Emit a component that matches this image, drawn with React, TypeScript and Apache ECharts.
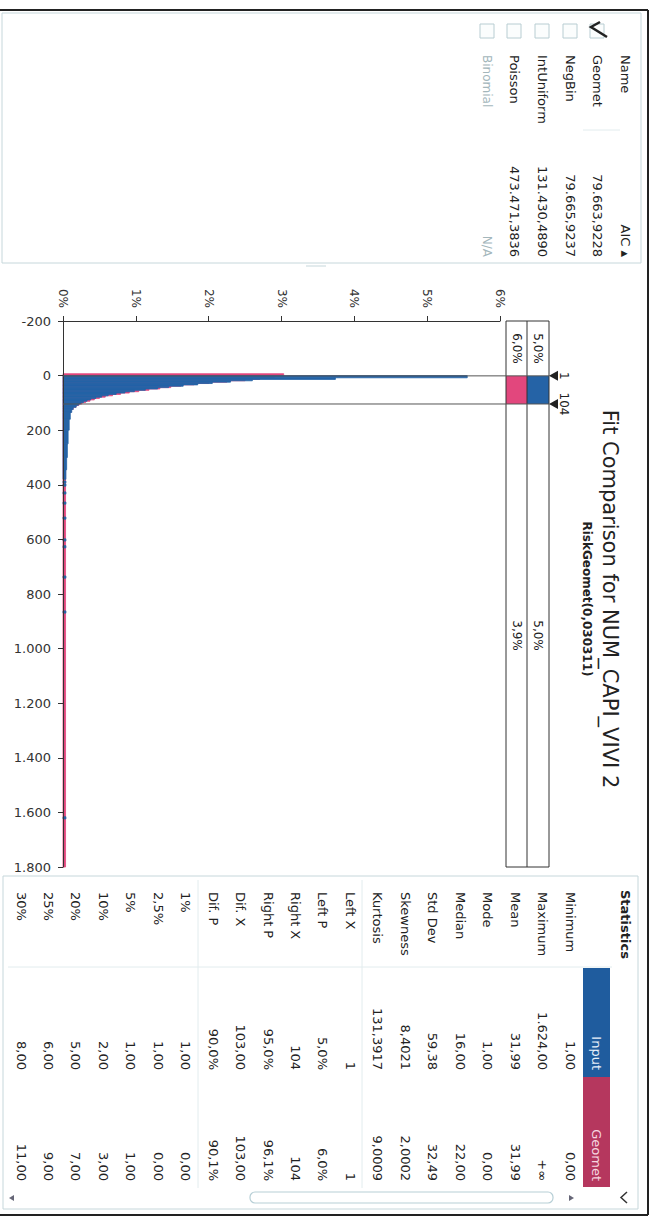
import React, { useEffect, useRef } from 'react';
import * as echarts from 'echarts';

// ---------- data ----------
const chartTitle = 'Fit Comparison for NUM_CAPI_VIVI 2';
const chartSubtitle = 'RiskGeomet(0,030311)';

// percent axis ticks
const percentTicks = [0, 1, 2, 3, 4, 5, 6];

// histogram of input data (bin edges in units, height in %)
const blueEdges = [0, 8, 14, 19, 24, 29, 34, 39, 44, 49, 54, 59, 64, 69, 74, 79, 84, 89, 94, 99, 104, 109, 116, 124, 135, 160, 200, 250, 300, 345, 380];
const bluePct = [5.55, 3.74, 2.6, 2.3, 2.05, 1.85, 1.65, 1.45, 1.3, 1.13, 0.98, 0.85, 0.73, 0.62, 0.53, 0.45, 0.38, 0.33, 0.28, 0.24, 0.21, 0.18, 0.14, 0.12, 0.1, 0.085, 0.07, 0.06, 0.05, 0.04];
// isolated input values in the long tail
const outlierValues = [390, 401, 430, 467, 522, 602, 627, 738, 866, 1620];
const outlierPct = [0.04, 0.04, 0.04, 0.04, 0.04, 0.04, 0.04, 0.04, 0.04, 0.04];
// fitted Geomet distribution
const pinkEdges = [-7, 1, 8, 14, 19, 24, 29, 34, 39, 44, 49, 54, 59, 64, 69, 74, 79, 84, 89, 94, 99, 104, 109, 116, 124, 135, 160, 200, 1800];
const pinkPct = [3.03, 2.9, 2.7, 2.5, 2.25, 2.0, 1.8, 1.62, 1.48, 1.33, 1.18, 1.04, 0.91, 0.79, 0.68, 0.58, 0.5, 0.43, 0.37, 0.31, 0.26, 0.22, 0.18, 0.14, 0.11, 0.08, 0.05, 0.035];

// delimiters
const delimiterValues = [1, 104];
const inputTailLabels = ['5,0%', '5,0%'];
const fitTailLabels = ['6,0%', '3,9%'];

// fit ranking
const fitNames = ['Geomet', 'NegBin', 'IntUniform', 'Poisson', 'Binomial'];
const fitAIC = ['79.663,9228', '79.665,9237', '131.430,4890', '473.471,3836', 'N/A'];
const fitChecked = [true, false, false, false, false];
const fitAvailable = [true, true, true, true, false];

// statistics table
const statLabels = ['Minimum', 'Maximum', 'Mean', 'Mode', 'Median', 'Std Dev', 'Skewness', 'Kurtosis', 'Left X', 'Left P', 'Right X', 'Right P', 'Dif. X', 'Dif. P', '1%', '2,5%', '5%', '10%', '20%', '25%', '30%'];
const inputStats = ['1,00', '1.624,00', '31,99', '1,00', '16,00', '59,38', '8,4021', '131,3917', '1', '5,0%', '104', '95,0%', '103,00', '90,0%', '1,00', '1,00', '1,00', '2,00', '5,00', '6,00', '8,00'];
const geometStats = ['0,00', '+∞', '31,99', '0,00', '22,00', '32,49', '2,0002', '9,0009', '1', '6,0%', '104', '96,1%', '103,00', '90,1%', '0,00', '0,00', '1,00', '3,00', '7,00', '9,00', '11,00'];

const FONT = 'DejaVu Sans';
const BLUE = '#2563a6';
const PINK = '#e2477d';

function fmtThousands(v: number) {
  const s = Math.abs(v).toString().replace(/\B(?=(\d{3})+(?!\d))/g, '.');
  return (v < 0 ? '-' : '') + s;
}

function binSeries(data: number[][], color: string, z: number) {
  return {
    type: 'custom',
    z,
    silent: true,
    encode: { x: 2, y: [0, 1] },
    data,
    renderItem: (params: any, api: any) => {
      const a = api.coord([0, api.value(0)]);
      const b = api.coord([api.value(2), api.value(1)]);
      return {
        type: 'rect',
        shape: { x: a[0], y: Math.min(a[1], b[1]), width: b[0] - a[0], height: Math.abs(b[1] - a[1]) },
        style: { fill: color, stroke: color, lineWidth: 0.8 },
      };
    },
  };
}

function rotText(text: string, x: number, y: number, o: any = {}) {
  return {
    type: 'text',
    x,
    y,
    rotation: -Math.PI / 2,
    silent: true,
    z: 20,
    style: {
      text,
      x: 0,
      y: 0,
      fill: o.fill || '#222',
      fontSize: o.size || 13,
      fontFamily: FONT,
      fontWeight: o.weight || 'normal',
      align: o.align || 'left',
      verticalAlign: 'middle',
    },
  };
}

function line(x1: number, y1: number, x2: number, y2: number, stroke: string, lw = 1) {
  return { type: 'line', silent: true, z: 15, shape: { x1, y1, x2, y2 }, style: { stroke, lineWidth: lw } };
}

export default function App() {
  const ref = useRef<HTMLDivElement>(null);

  useEffect(() => {
    document.body.style.margin = '0';
    const chart = echarts.init(ref.current!, null, { renderer: 'svg' });
    const axisColor = '#333';
    const blueData = bluePct.map((p, i) => [blueEdges[i], blueEdges[i + 1], p]);
    const pinkData = pinkPct.map((p, i) => [pinkEdges[i], pinkEdges[i + 1], p]);
    const outData = outlierValues.map((v, i) => [v - 4, v + 4, outlierPct[i]]);

    chart.setOption({
      animation: false,
      backgroundColor: '#ffffff',
      textStyle: { fontFamily: FONT },
      grid: { left: 63, right: 159, top: 321, bottom: 353 },
      xAxis: {
        type: 'value',
        position: 'top',
        min: 0,
        max: 6,
        interval: 1,
        z: 10,
        splitLine: { show: false },
        axisLine: { show: true, onZero: false, lineStyle: { color: axisColor } },
        axisTick: { show: true, length: 5, lineStyle: { color: axisColor } },
        axisLabel: { show: false },
      },
      yAxis: {
        type: 'value',
        inverse: true,
        min: -200,
        max: 1800,
        interval: 200,
        z: 10,
        splitLine: { show: false },
        axisLine: { show: true, onZero: false, lineStyle: { color: axisColor } },
        axisTick: { show: true, length: 5, lineStyle: { color: axisColor } },
        axisLabel: { margin: 12, color: axisColor, fontSize: 13, fontFamily: FONT, formatter: (v: number) => fmtThousands(v) },
      },
      series: [
        binSeries(pinkData, PINK, 2),
        binSeries(blueData, BLUE, 3),
        binSeries(outData, BLUE, 3),
      ],
    });

    const yPix = (v: number) => chart.convertToPixel({ yAxisIndex: 0 }, v) as number;
    const xPix = (v: number) => chart.convertToPixel({ xAxisIndex: 0 }, v) as number;
    const yTop = yPix(-200);
    const yBot = yPix(1800);
    const x0 = xPix(0);
    const colL = 506, colM = 527, colR = 549;
    const g: any[] = [];

    // percent axis labels (rotated like the rest of the screenshot)
    percentTicks.forEach((t) => {
      g.push(rotText(t + '%', xPix(t), yTop - 13, { size: 12, align: 'right', fill: axisColor }));
    });

    // outer frame
    g.push(line(0, 10, 648, 10, '#222', 2));
    g.push(line(648, 10, 648, 1215, '#222', 2));
    g.push(line(0, 1215, 648, 1215, '#222', 2));

    // fit list panel
    g.push({ type: 'rect', silent: true, z: 15, shape: { x: 2, y: 13, width: 639, height: 250 }, style: { fill: 'none', stroke: '#c6d7db', lineWidth: 1 } });
    g.push(line(583, 130, 620, 130, '#e2ecee', 1));
    g.push(line(306, 266, 326, 266, '#c6d7db', 1));
    g.push(rotText('Name', 625, 55, { size: 13 }));
    g.push(rotText('AIC ▴', 625, 257, { size: 13, align: 'right' }));
    const fitX = [597, 570, 542, 514, 487];
    fitNames.forEach((n, i) => {
      const x = fitX[i];
      const col = fitAvailable[i] ? '#1d1d1d' : '#a3b6bb';
      g.push({ type: 'rect', silent: true, z: 15, shape: { x: x - 7, y: 24, width: 14, height: 14 }, style: { fill: '#fbfdfd', stroke: '#b8cdd2', lineWidth: 1 } });
      if (fitChecked[i]) {
        g.push({ type: 'polyline', silent: true, z: 16, shape: { points: [[x + 3, 22], [x - 6, 27], [x + 10, 37]] }, style: { stroke: '#222', lineWidth: 2.5, fill: 'none' } });
      }
      g.push(rotText(n, x, 55, { fill: col, size: fitAvailable[i] ? 13 : 12 }));
      g.push(rotText(fitAIC[i], x, 257, { fill: col, size: fitAvailable[i] ? 13 : 12, align: 'right' }));
    });

    // title
    g.push(rotText(chartTitle, 610, 599, { size: 21, align: 'center', fill: '#222' }));
    g.push(rotText(chartSubtitle, 587, 599, { size: 12, weight: 'bold', align: 'center', fill: '#222' }));

    // delimiter bar
    const yd0 = yPix(delimiterValues[0]);
    const yd1 = yPix(delimiterValues[1]);
    g.push({ type: 'rect', silent: true, z: 14, shape: { x: colL, y: yd0, width: colM - colL, height: yd1 - yd0 }, style: { fill: PINK } });
    g.push({ type: 'rect', silent: true, z: 14, shape: { x: colM, y: yd0, width: colR - colM, height: yd1 - yd0 }, style: { fill: BLUE } });
    [colL, colM, colR].forEach((x) => g.push(line(x, yTop, x, yBot, '#333', 1)));
    g.push(line(colL, yTop, colR, yTop, '#333', 1));
    g.push(line(colL, yBot, colR, yBot, '#333', 1));
    delimiterValues.forEach((v) => {
      const y = yPix(v);
      g.push(line(x0, y, colR, y, '#555', 1));
      g.push({ type: 'polygon', silent: true, z: 16, shape: { points: [[colR, y], [colR + 9, y - 5], [colR + 9, y + 5]] }, style: { fill: '#222' } });
      g.push(rotText(String(v), colR + 15, y, { size: 12, align: 'center' }));
    });
    const midL = (yTop + yd0) / 2;
    const midR = (yd1 + yBot) / 2;
    g.push(rotText(inputTailLabels[0], (colM + colR) / 2, midL, { size: 12, align: 'center' }));
    g.push(rotText(fitTailLabels[0], (colL + colM) / 2, midL, { size: 12, align: 'center' }));
    g.push(rotText(inputTailLabels[1], (colM + colR) / 2, midR, { size: 12, align: 'center' }));
    g.push(rotText(fitTailLabels[1], (colL + colM) / 2, midR, { size: 12, align: 'center' }));

    // statistics panel
    g.push({ type: 'rect', silent: true, z: 12, shape: { x: 3, y: 876, width: 635, height: 333 }, style: { fill: 'none', stroke: '#c6d7db', lineWidth: 1 } });
    g.push(line(8, 967, 612, 967, '#e2ecee', 1));
    g.push(line(362, 880, 362, 1188, '#e2ecee', 1));
    g.push(line(198, 880, 198, 1188, '#e2ecee', 1));
    g.push(rotText('Statistics', 625, 890, { size: 13, weight: 'bold' }));
    g.push({ type: 'rect', silent: true, z: 14, shape: { x: 583, y: 968, width: 27, height: 109 }, style: { fill: '#1f5c9e' } });
    g.push({ type: 'rect', silent: true, z: 14, shape: { x: 583, y: 1077, width: 27, height: 110 }, style: { fill: '#b5375e' } });
    g.push(rotText('Input', 596.5, 1070, { size: 13, align: 'right', fill: '#e8f0fa' }));
    g.push(rotText('Geomet', 596.5, 1181, { size: 13, align: 'right', fill: '#f6d6e0' }));
    statLabels.forEach((lab, i) => {
      const x = 570 - i * 27.45;
      g.push(rotText(lab, x, 892, { size: 13 }));
      g.push(rotText(inputStats[i], x, 1070, { size: 13, align: 'right' }));
      g.push(rotText(geometStats[i], x, 1181, { size: 13, align: 'right' }));
    });
    g.push({ type: 'rect', silent: true, z: 14, shape: { x: 250, y: 1192, width: 303, height: 11, r: 5 }, style: { fill: 'none', stroke: '#b7cfd6', lineWidth: 1.2 } });
    g.push({ type: 'polygon', silent: true, z: 14, shape: { points: [[574, 1198], [569, 1195], [569, 1201]] }, style: { fill: '#667' } });
    g.push({ type: 'polygon', silent: true, z: 14, shape: { points: [[9, 1198], [14, 1195], [14, 1201]] }, style: { fill: '#667' } });
    g.push({ type: 'polyline', silent: true, z: 14, shape: { points: [[627, 1192], [621, 1197.5], [627, 1203]] }, style: { stroke: '#333', lineWidth: 1.5, fill: 'none' } });

    chart.setOption({ graphic: { elements: g } });

    return () => chart.dispose();
  }, []);

  return <div ref={ref} style={{ width: 659, height: 1220 }} />;
}
